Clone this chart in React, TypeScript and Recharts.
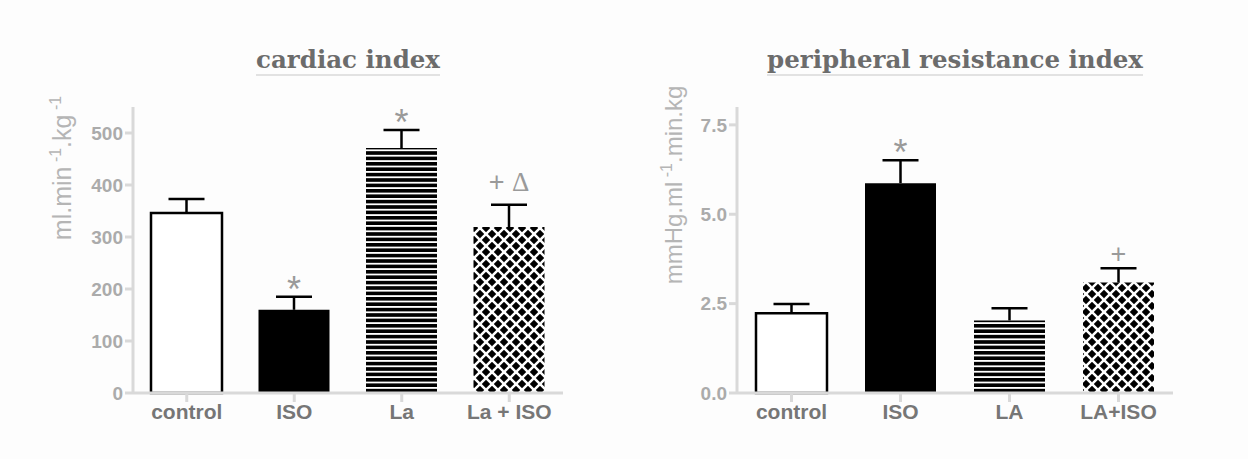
import { Bar, BarChart, Cell, LabelList, XAxis, YAxis } from "recharts";

const leftCategories = ["control", "ISO", "La", "La + ISO"];
const leftMeans = [346, 160, 471, 319];
const leftErrors = [27, 25, 35, 43];
const leftNotes = ["", "*", "*", "+ Δ"];
const leftTicks = [0, 100, 200, 300, 400, 500];

const rightCategories = ["control", "ISO", "LA", "LA+ISO"];
const rightMeans = [2.23, 5.87, 2.03, 3.09];
const rightErrors = [0.26, 0.64, 0.34, 0.4];
const rightNotes = ["", "*", "", "+"];
const rightTicks = [0, 2.5, 5, 7.5];

const AXIS = "#d9d9d9";
const SANS = "'Liberation Sans', Arial, sans-serif";
const SERIF = "'DejaVu Serif', serif";

function buildRows(cats: string[], means: number[], errs: number[], notes: string[]) {
  return cats.map((name, i) => ({ name, value: means[i], err: errs[i], note: notes[i] }));
}

function Patterns({ id }: { id: string }) {
  const s = 12;
  const offs: number[][] = [];
  for (const dx of [-s, 0, s]) for (const dy of [-s, 0, s]) offs.push([dx, dy]);
  return (
    <defs>
      <pattern id={`${id}-stripes`} width={10} height={5.4} patternUnits="userSpaceOnUse">
        <rect width={10} height={5.4} fill="#fff" />
        <rect width={10} height={3.6} fill="#000" />
      </pattern>
      <pattern id={`${id}-hatch`} width={s} height={s} patternUnits="userSpaceOnUse">
        <rect width={s} height={s} fill="#000" />
        {offs.map(([dx, dy]) => (
          <g key={`${dx}_${dy}`} stroke="#fff" strokeWidth={2.5}>
            <line x1={dx} y1={dy} x2={dx + s} y2={dy + s} />
            <line x1={dx + s} y1={dy} x2={dx} y2={dy + s} />
          </g>
        ))}
      </pattern>
    </defs>
  );
}

// upper half of the error bar, drawn as the stacked segment on top of each mean
function ErrShape(props: any) {
  const { x, y, width, height } = props;
  if (x == null || y == null) return null;
  const cx = x + width / 2;
  return (
    <g stroke="#000" strokeWidth={2.5} fill="none">
      <line x1={cx} y1={y + height} x2={cx} y2={y} />
      <line x1={cx - 18} y1={y} x2={cx + 18} y2={y} />
    </g>
  );
}

function NoteLabel(props: any) {
  const { x, y, width, value } = props;
  if (!value) return null;
  const text = String(value);
  const star = text === "*";
  const parts = text.split("Δ");
  const cx = x + width / 2;
  const by = star ? y + 5 : text.length > 1 ? y - 14 : y - 5;
  return (
    <text x={cx} y={by} textAnchor="middle" fill="#9a9a9a" fontSize={star ? 36 : 27} fontFamily={SANS}>
      {parts[0]}
      {parts.length > 1 && (
        <tspan fontFamily="'Liberation Serif', serif" fontSize={27}>
          Δ
        </tspan>
      )}
    </text>
  );
}

function YTitle({ x, y, size, main, sup }: { x: number; y: number; size: number; main: string[]; sup: string[] }) {
  return (
    <text
      transform={`translate(${x},${y}) rotate(-90)`}
      textAnchor="middle"
      fill="#b5b5b5"
      fontSize={size}
      fontFamily={SANS}
    >
      {main.map((m, i) => (
        <tspan key={i}>
          <tspan dy={i === 0 ? 0 : 10}>{m}</tspan>
          {sup[i] ? (
            <tspan dy={-10} fontSize={16}>
              {" " + sup[i]}
            </tspan>
          ) : null}
        </tspan>
      ))}
    </text>
  );
}

function Panel({
  id,
  width,
  yWidth,
  right,
  cats,
  means,
  errs,
  notes,
  ticks,
  domain,
  fmt,
  yTitle,
}: {
  id: string;
  width: number;
  yWidth: number;
  right: number;
  cats: string[];
  means: number[];
  errs: number[];
  notes: string[];
  ticks: number[];
  domain: [number, number];
  fmt: (v: number) => string;
  yTitle: React.ReactNode;
}) {
  const rows = buildRows(cats, means, errs, notes);
  const fills = ["#ffffff", "#000000", `url(#${id}-stripes)`, `url(#${id}-hatch)`];
  return (
    <BarChart width={width} height={459} data={rows} margin={{ top: 107, right, bottom: 26, left: 0 }}>
      <Patterns id={id} />
      <XAxis
        dataKey="name"
        height={40}
        axisLine={{ stroke: AXIS, strokeWidth: 3 }}
        tickLine={{ stroke: AXIS, strokeWidth: 3 }}
        tickSize={9}
        tickMargin={2}
        tick={{ fill: "#767676", fontSize: 21, fontWeight: 700, fontFamily: SANS }}
        interval={0}
      />
      <YAxis
        width={yWidth}
        domain={domain}
        ticks={ticks}
        tickFormatter={fmt}
        axisLine={{ stroke: AXIS, strokeWidth: 3 }}
        tickLine={{ stroke: AXIS, strokeWidth: 3 }}
        tickSize={8}
        tickMargin={2}
        tick={{ fill: "#ababab", fontSize: 19, fontWeight: 700, fontFamily: SANS }}
        label={() => yTitle}
      />
      <Bar dataKey="value" stackId="s" barSize={71} isAnimationActive={false}>
        {rows.map((_, i) => (
          <Cell key={i} fill={fills[i]} stroke={i === 0 ? "#000" : "none"} strokeWidth={2.5} />
        ))}
      </Bar>
      <Bar dataKey="err" stackId="s" barSize={71} shape={ErrShape} isAnimationActive={false}>
        <LabelList dataKey="note" content={NoteLabel} />
      </Bar>
    </BarChart>
  );
}

const titleStyle: React.CSSProperties = {
  position: "absolute",
  top: 44,
  height: 32,
  lineHeight: "32px",
  textAlign: "center",
  fontFamily: SERIF,
  fontWeight: 700,
  fontSize: 24.5,
  color: "#6c6c6c",
};

export default function App() {
  return (
    <div style={{ position: "absolute", left: 0, top: 0, width: 1248, height: 459, background: "#fdfdfd", overflow: "hidden" }}>
      <div style={{ ...titleStyle, left: 133, width: 430 }}>
        <span style={{ borderBottom: "2px solid #e2e2e2" }}>cardiac index</span>
      </div>
      <div style={{ ...titleStyle, left: 737, width: 436 }}>
        <span style={{ borderBottom: "2px solid #e2e2e2" }}>peripheral resistance index</span>
      </div>
      <div style={{ position: "absolute", left: 0, top: 0 }}>
        <Panel
          id="ci"
          width={600}
          yWidth={133}
          right={37}
          cats={leftCategories}
          means={leftMeans}
          errs={leftErrors}
          notes={leftNotes}
          ticks={leftTicks}
          domain={[0, 550]}
          fmt={(v) => String(v)}
          yTitle={<YTitle x={71} y={168} size={25} main={["ml.min", ".kg"]} sup={["-1", "-1"]} />}
        />
      </div>
      <div style={{ position: "absolute", left: 624, top: 0 }}>
        <Panel
          id="pri"
          width={624}
          yWidth={113}
          right={75}
          cats={rightCategories}
          means={rightMeans}
          errs={rightErrors}
          notes={rightNotes}
          ticks={rightTicks}
          domain={[0, 8]}
          fmt={(v) => v.toFixed(1)}
          yTitle={<YTitle x={58} y={185} size={24} main={["mmHg.ml", ".min.kg"]} sup={["-1", ""]} />}
        />
      </div>
    </div>
  );
}
